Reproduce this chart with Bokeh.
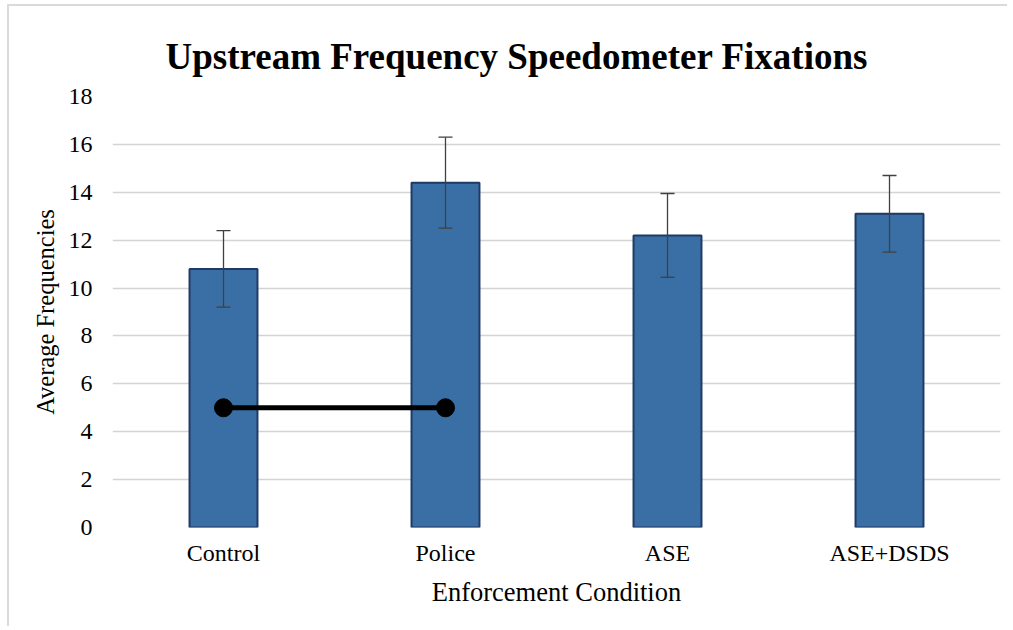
from bokeh.plotting import figure
from bokeh.models import ColumnDataSource, Whisker, TeeHead, FixedTicker, Range1d
from bokeh.embed import file_html
from bokeh.resources import INLINE

categories = ["Control", "Police", "ASE", "ASE+DSDS"]
means = [10.8, 14.4, 12.2, 13.1]
errors = [1.6, 1.9, 1.75, 1.6]
sig_pair = ["Control", "Police"]
sig_y = [5, 5]
y_ticks = [0, 2, 4, 6, 8, 10, 12, 14, 16, 18]

src = ColumnDataSource(dict(
    cat=categories,
    mean=means,
    upper=[m + e for m, e in zip(means, errors)],
    lower=[m - e for m, e in zip(means, errors)],
))

p = figure(x_range=categories, y_range=Range1d(0, 18), width=1000, height=622,
           output_backend="svg", toolbar_location=None,
           title="Upstream Frequency Speedometer Fixations",
           min_border_left=103, min_border_right=9, min_border_top=90, min_border_bottom=101)

p.title.text_font = "Liberation Serif"
p.title.text_font_size = "37px"
p.title.text_font_style = "bold"
p.title.text_color = "#000000"
p.title.align = "left"
p.title.offset = 53
p.title.standoff = 40

p.vbar(x="cat", top="mean", width=0.306, source=src,
       fill_color="#3a6fa6", line_color="#1f3a66", line_width=2)

w = Whisker(base="cat", upper="upper", lower="lower", source=src,
            line_color="#404040", line_width=1.3, level="overlay",
            upper_head=TeeHead(size=14, line_color="#404040", line_width=1.3),
            lower_head=TeeHead(size=14, line_color="#404040", line_width=1.3))
p.add_layout(w)

p.line(x=sig_pair, y=sig_y, line_color="black", line_width=5)
p.scatter(x=sig_pair, y=sig_y, size=18, fill_color="black", line_color="black")

p.xgrid.grid_line_color = None
p.ygrid.grid_line_color = "#d4d4d4"
p.ygrid.grid_line_width = 1.5
p.yaxis.ticker = FixedTicker(ticks=y_ticks)

for ax in (p.xaxis[0], p.yaxis[0]):
    ax.axis_line_color = None
    ax.major_tick_line_color = None
    ax.minor_tick_line_color = None
    ax.major_tick_out = 0
    ax.major_tick_in = 0
    ax.major_label_text_font = "Liberation Serif"
    ax.major_label_text_font_size = "24px"
    ax.major_label_text_color = "#000000"
    ax.axis_label_text_font = "Liberation Serif"
    ax.axis_label_text_font_style = "normal"
    ax.axis_label_text_color = "#000000"

p.xaxis.axis_label = "Enforcement Condition"
p.xaxis.axis_label_text_font_size = "26.5px"
p.xaxis.major_label_standoff = 12
p.xaxis.axis_label_standoff = 8
p.yaxis.axis_label = "Average Frequencies"
p.yaxis.axis_label_text_font_size = "24.5px"
p.yaxis.major_label_standoff = 20
p.yaxis.axis_label_standoff = 7

p.outline_line_color = None
p.styles = {"margin-left": "7px", "margin-top": "4px",
            "border-left": "2px solid #dadada", "border-top": "2px solid #dadada"}

open("out.html", "w").write(file_html(p, INLINE))
